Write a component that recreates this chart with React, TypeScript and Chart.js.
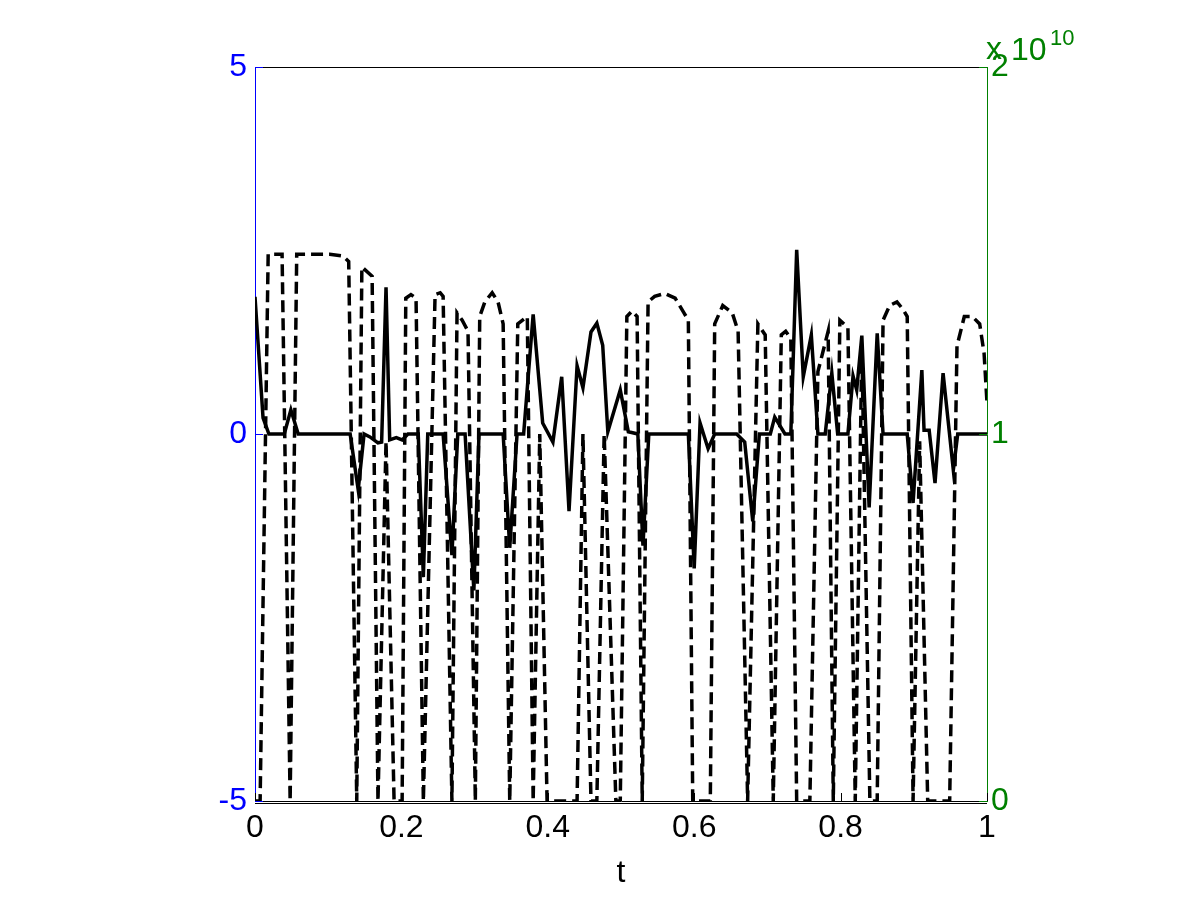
import React, { useEffect, useRef } from "react";
import { Chart, registerables } from "chart.js";

Chart.register(...registerables);

// ---- data ----
const xTicks = [0, 0.2, 0.4, 0.6, 0.8, 1];
const leftTicks = [-5, 0, 5];
const rightTicksE10 = [0, 1, 2];

// solid series (left axis)
const solidT = [0, 0.011, 0.019, 0.040, 0.049, 0.059, 0.130, 0.141, 0.149, 0.157, 0.168, 0.173, 0.179, 0.184, 0.193, 0.201, 0.209, 0.223, 0.230, 0.236, 0.257, 0.269, 0.277, 0.287, 0.299, 0.306, 0.339, 0.348, 0.358, 0.367, 0.380, 0.393, 0.407, 0.419, 0.429, 0.440, 0.448, 0.459, 0.467, 0.475, 0.482, 0.499, 0.510, 0.523, 0.530, 0.538, 0.592, 0.600, 0.608, 0.619, 0.628, 0.658, 0.669, 0.680, 0.689, 0.704, 0.710, 0.724, 0.732, 0.740, 0.749, 0.760, 0.769, 0.779, 0.788, 0.796, 0.810, 0.817, 0.822, 0.829, 0.839, 0.850, 0.858, 0.891, 0.899, 0.911, 0.914, 0.921, 0.929, 0.940, 0.954, 0.960, 1.0];
const solidV = [1.87, 0.22, 0, 0, 0.33, 0, 0, -0.76, 0, -0.04, -0.12, -0.11, 2.0, -0.08, -0.05, -0.08, 0, 0, -1.95, 0, 0, -1.65, 0, 0, -2.13, 0, 0, -1.55, 0, 0, 1.63, 0.15, -0.11, 0.78, -1.05, 0.93, 0.63, 1.39, 1.51, 1.21, 0.03, 0.60, 0.03, 0, -1.52, 0, 0, -1.83, 0.15, -0.20, 0, 0, -0.11, -1.19, 0, 0, 0.23, 0, 0, 2.51, 0.78, 1.35, 0, 0, 0.83, 0, 0, 0.79, 0.60, 1.34, -1.00, 1.37, 0, 0, -0.94, 0.87, 0.05, 0.05, -0.67, 0.83, -0.49, 0, 0];

// dashed series (right axis), in units of 1e10
const dashT = [0, 0.007, 0.018, 0.037, 0.048, 0.057, 0.102, 0.120, 0.128, 0.139, 0.146, 0.160, 0.168, 0.179, 0.190, 0.201, 0.206, 0.213, 0.220, 0.230, 0.246, 0.253, 0.257, 0.269, 0.276, 0.283, 0.291, 0.301, 0.307, 0.314, 0.324, 0.332, 0.339, 0.348, 0.359, 0.372, 0.380, 0.389, 0.399, 0.440, 0.448, 0.459, 0.467, 0.477, 0.493, 0.499, 0.508, 0.515, 0.522, 0.529, 0.537, 0.546, 0.560, 0.574, 0.586, 0.592, 0.598, 0.622, 0.628, 0.639, 0.652, 0.660, 0.673, 0.687, 0.697, 0.708, 0.719, 0.725, 0.732, 0.740, 0.758, 0.769, 0.783, 0.790, 0.799, 0.810, 0.820, 0.829, 0.840, 0.850, 0.858, 0.867, 0.877, 0.885, 0.891, 0.899, 0.908, 0.919, 0.949, 0.959, 0.969, 0.980, 0.990, 0.996, 1.0];
const dashE10 = [0, 0, 1.49, 1.49, 0, 1.49, 1.49, 1.485, 1.47, 0, 1.455, 1.43, 0, 0.98, 0, 0, 1.37, 1.38, 1.37, 0, 1.38, 1.385, 1.375, 0, 1.33, 1.31, 1.28, 0, 1.32, 1.36, 1.385, 1.36, 1.30, 0, 1.30, 1.32, 0, 1.0, 0, 0, 1.0, 0, 0, 1.0, 0, 0, 1.32, 1.335, 1.32, 0, 1.36, 1.375, 1.383, 1.37, 1.33, 1.31, 0, 0, 1.30, 1.35, 1.33, 1.28, 0, 1.30, 1.27, 0, 1.27, 1.28, 1.26, 0, 0, 1.17, 1.28, 0, 1.31, 1.29, 0, 1.24, 0, 0, 1.31, 1.35, 1.36, 1.34, 1.32, 0, 0.98, 0, 0, 1.24, 1.32, 1.32, 1.30, 1.22, 1.085];

const BLUE = "#0000ff";
const GREEN = "#008000";
const FONT = "'Liberation Sans', Arial, Helvetica, sans-serif";

const decorPlugin = {
  id: "decor",
  afterDraw(chart: any) {
    const { ctx, chartArea: a, scales } = chart;
    const seg = (x1: number, y1: number, x2: number, y2: number, c: string) => {
      ctx.strokeStyle = c;
      ctx.lineWidth = 1;
      ctx.beginPath();
      ctx.moveTo(x1, y1);
      ctx.lineTo(x2, y2);
      ctx.stroke();
    };
    ctx.save();
    // box top and second bottom line
    seg(a.left, Math.round(a.top) + 0.5, a.right, Math.round(a.top) + 0.5, "#000");
    seg(a.left, Math.round(a.bottom) + 2.5, a.right, Math.round(a.bottom) + 2.5, "#000");
    // inward ticks
    xTicks.forEach((v) => {
      const px = Math.round(scales.x.getPixelForValue(v)) + 0.5;
      seg(px, a.bottom, px, a.bottom - 8, "#000");
    });
    leftTicks.forEach((v) => {
      const py = Math.round(scales.y.getPixelForValue(v)) + 0.5;
      seg(a.left, py, a.left + 8, py, BLUE);
    });
    rightTicksE10.forEach((v) => {
      const py = Math.round(scales.y1.getPixelForValue(v * 1e10)) + 0.5;
      seg(a.right, py, a.right - 8, py, GREEN);
    });
    // exponent label
    ctx.fillStyle = GREEN;
    ctx.textBaseline = "alphabetic";
    ctx.textAlign = "left";
    ctx.font = `32px ${FONT}`;
    ctx.fillText("x", a.right - 1, 59);
    ctx.fillText("10", a.right + 24, 60);
    ctx.font = `22px ${FONT}`;
    ctx.fillText("10", a.right + 63, 45);
    ctx.restore();
  },
};

export default function App() {
  const ref = useRef<HTMLCanvasElement | null>(null);

  useEffect(() => {
    if (!ref.current) return;
    const solidData = solidT.map((t, i) => ({ x: t, y: solidV[i] }));
    const dashData = dashT.map((t, i) => ({ x: t, y: dashE10[i] * 1e10 }));
    const chart = new Chart(ref.current, {
      type: "line",
      data: {
        datasets: [
          {
            data: solidData,
            yAxisID: "y",
            xAxisID: "x",
            borderColor: "#000",
            borderWidth: 3.5,
            pointRadius: 0,
            fill: false,
            tension: 0,
          },
          {
            data: dashData,
            yAxisID: "y1",
            xAxisID: "x",
            borderColor: "#000",
            borderWidth: 3.5,
            borderDash: [12, 6],
            pointRadius: 0,
            fill: false,
            tension: 0,
          },
        ],
      },
      options: {
        responsive: false,
        animation: false,
        devicePixelRatio: 1,
        layout: { padding: { top: 67, left: 0, right: 0, bottom: 0 } },
        plugins: { legend: { display: false }, tooltip: { enabled: false } },
        scales: {
          x: {
            type: "linear",
            position: "bottom",
            min: 0,
            max: 1,
            afterBuildTicks: (s: any) => {
              s.ticks = xTicks.map((v) => ({ value: v }));
            },
            afterFit: (s: any) => {
              s.height = 99;
            },
            grid: { display: false, drawTicks: false },
            border: { color: "#000", width: 1 },
            ticks: {
              color: "#000",
              font: { family: FONT, size: 32 },
              padding: 8,
              maxRotation: 0,
              autoSkip: false,
              callback: (v: any) => String(Number(Number(v).toFixed(1))),
            },
            title: {
              display: true,
              text: "t",
              color: "#000",
              font: { family: FONT, size: 32 },
              padding: { top: 0, bottom: 8 },
            },
          },
          y: {
            type: "linear",
            position: "left",
            min: -5,
            max: 5,
            afterBuildTicks: (s: any) => {
              s.ticks = leftTicks.map((v) => ({ value: v }));
            },
            afterFit: (s: any) => {
              s.width = 255;
            },
            grid: { display: false, drawTicks: false },
            border: { color: BLUE, width: 1 },
            ticks: {
              color: BLUE,
              font: { family: FONT, size: 32 },
              padding: 8,
              callback: (v: any) => String(v),
            },
          },
          y1: {
            type: "linear",
            position: "right",
            min: 0,
            max: 2e10,
            afterBuildTicks: (s: any) => {
              s.ticks = rightTicksE10.map((v) => ({ value: v * 1e10 }));
            },
            afterFit: (s: any) => {
              s.width = 213;
            },
            grid: { display: false, drawTicks: false },
            border: { color: GREEN, width: 1 },
            ticks: {
              color: GREEN,
              font: { family: FONT, size: 32 },
              padding: 4,
              callback: (v: any) => String(Math.round(Number(v) / 1e10)),
            },
          },
        },
      },
      plugins: [decorPlugin],
    } as any);
    return () => chart.destroy();
  }, []);

  return (
    <div style={{ position: "absolute", left: 0, top: 0, width: 1200, height: 900, background: "#fff" }}>
      <canvas ref={ref} width={1200} height={900} style={{ display: "block" }} />
    </div>
  );
}
